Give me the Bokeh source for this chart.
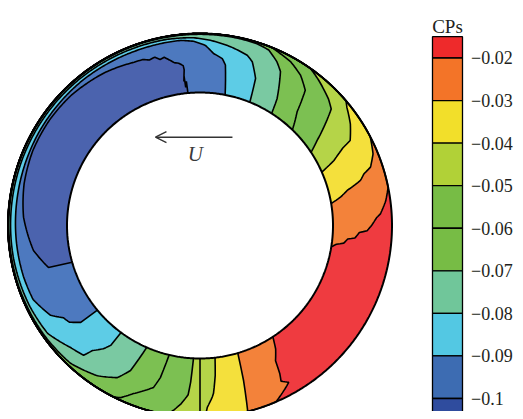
import numpy as np
from bokeh.plotting import figure
from bokeh.models import Range1d, Arrow, OpenHead, Label
from bokeh.embed import file_html
from bokeh.resources import INLINE
from bokeh.core.properties import value

# ---------------- data ----------------
# contour levels (colour-bar tick values, top to bottom)
levels = [-0.02, -0.03, -0.04, -0.05, -0.06, -0.07, -0.08, -0.09, -0.1]
level_labels = ["\u22120.02", "\u22120.03", "\u22120.04", "\u22120.05", "\u22120.06",
                "\u22120.07", "\u22120.08", "\u22120.09", "\u22120.1"]
bar_top_value = -0.015
bar_bottom_value = -0.11

# band colours, highest (red) to lowest (dark blue)
bar_colors = ["#EE2A2B", "#F37428", "#F2DF2A", "#B1D137", "#77BC45", "#77BC45",
              "#70C69A", "#53C8E3", "#3D6CB2", "#2F4C9E"]
ring_colors = ["#EF3B40", "#F3823A", "#F4E03C", "#B5D448", "#7CC052", "#7CC052",
               "#7AC9A2", "#5DCCE6", "#4D79BF", "#4B63AE"]

# Each contour line: angle (deg, counter-clockwise from +x) and radial
# fraction across the ring (0 = inner edge, 1 = outer edge), running from
# its upper end, round the left side, to its lower end.
c02_theta = [-9.2, -7.8, -7.0, -5.2, -4.6, -2.5, -1.8, 0.2, 2.5, 3.7, 7.5, 11.5,
             293.3, 298.0, 299.5, 297.5, 298.3, 299.2, 301.5, 303.2]
c02_frac = [0.0, 0.08, 0.2, 0.26, 0.38, 0.45, 0.58, 0.66, 0.74, 0.81, 0.92, 1.0,
            1.0, 0.85, 0.8, 0.72, 0.6, 0.37, 0.2, 0.0]

c03_theta = [9.5, 11.5, 13.4, 15.7, 17.5, 18.9, 22.5, 27.6, 284.4, 285.7, 286.5]
c03_frac = [0.0, 0.18, 0.31, 0.57, 0.66, 0.8, 0.92, 1.0, 1.0, 0.47, 0.0]

c04_theta = [23.7, 25.9, 27.0, 28.5, 29.5, 34.0, 38.8, 40.5,
             271.5, 272.3, 274.1, 274.6, 275.8, 276.5]
c04_frac = [0.0, 0.27, 0.36, 0.5, 0.67, 0.82, 0.94, 1.0,
            1.0, 0.83, 0.66, 0.6, 0.3, 0.0]

c05_theta = [33.4, 36.0, 38.5, 41.6, 44.5, 47.5, 51.0, 54.9,
             260.1, 262.0, 264.0, 266.0, 266.6, 267.2]
c05_frac = [0.0, 0.2, 0.43, 0.72, 0.8, 0.86, 0.93, 1.0,
            1.0, 0.9, 0.78, 0.62, 0.4, 0.0]

c06_theta = [46.0, 49.5, 52.1, 56.2, 61.1, 64.9, 68.0,
             243.0, 245.2, 248.4, 254.0, 255.4, 256.6]
c06_frac = [0.0, 0.28, 0.65, 0.81, 0.92, 0.96, 1.0,
            1.0, 0.96, 0.81, 0.6, 0.41, 0.0]

c07_theta = [57.4, 58.7, 62.4, 64.8, 68.6, 72.6, 80.0, 120.0, 160.0, 200.0, 215.0,
             226.8, 235.7, 241.5, 244.4, 246.4]
c07_frac = [0.0, 0.26, 0.69, 0.81, 0.94, 0.975, 0.985, 0.99, 0.99, 0.985, 0.975,
            0.95, 0.83, 0.68, 0.47, 0.0]

c08_theta = [68.0, 69.3, 72.3, 74.5, 80.3, 86.8, 92.0, 100.0, 130.0, 160.0, 190.0,
             205.0, 215.3, 223.3, 228.1, 229.3, 231.9, 233.3, 233.6]
c08_frac = [0.0, 0.41, 0.66, 0.74, 0.82, 0.89, 0.93, 0.95, 0.96, 0.96, 0.955,
            0.94, 0.91, 0.76, 0.7, 0.54, 0.4, 0.28, 0.0]

c09_theta = [79.1, 81.0, 82.4, 85.5, 88.3, 92.0, 96.0, 110.0, 130.0, 150.0, 170.0,
             185.0, 196.0, 203.9, 211.0, 214.0, 216.5, 219.1, 219.5]
c09_frac = [0.0, 0.5, 0.6, 0.67, 0.8, 0.87, 0.9, 0.9, 0.91, 0.9, 0.88,
            0.87, 0.86, 0.84, 0.7, 0.54, 0.5, 0.35, 0.0]

c10_theta = [95.2, 95.4, 95.9, 96.1, 96.4, 95.8, 96.0, 97.5, 99.0, 102.0, 103.5,
             105.0, 107.0, 109.0, 112.0, 122.0, 135.0, 145.0, 156.0, 166.6, 177.3,
             188.5, 195.5, 196.0]
c10_frac = [0.0, 0.2, 0.1, 0.3, 0.2, 0.4, 0.47, 0.52, 0.54, 0.66, 0.64,
            0.7, 0.68, 0.72, 0.73, 0.8, 0.85, 0.86, 0.85, 0.81, 0.74,
            0.6, 0.41, 0.0]

contours = [(c02_theta, c02_frac), (c03_theta, c03_frac), (c04_theta, c04_frac),
            (c05_theta, c05_frac), (c06_theta, c06_frac), (c07_theta, c07_frac),
            (c08_theta, c08_frac), (c09_theta, c09_frac), (c10_theta, c10_frac)]

# seam line at the bottom of the ring
seam_theta = [270.0, 270.0]
seam_frac = [0.0, 1.0]

# ---------------- geometry ----------------
R_OUT = 1.0
R_IN = 133.0 / 192.0


def densify(theta, frac, step=0.5):
    ts, rs = [], []
    for i in range(len(theta) - 1):
        t0, t1 = theta[i], theta[i + 1]
        r0 = R_IN + frac[i] * (R_OUT - R_IN)
        r1 = R_IN + frac[i + 1] * (R_OUT - R_IN)
        n = max(1, int(np.ceil(abs(t1 - t0) / step)))
        s = np.linspace(0, 1, n, endpoint=False)
        ts.extend(t0 + (t1 - t0) * s)
        rs.extend(r0 + (r1 - r0) * s)
    ts.append(theta[-1])
    rs.append(R_IN + frac[-1] * (R_OUT - R_IN))
    return np.array(ts), np.array(rs)


def to_xy(t, r):
    a = np.radians(t)
    return r * np.cos(a), r * np.sin(a)


poly_xs, poly_ys, line_xs, line_ys = [], [], [], []
for th, fr in contours:
    t, r = densify(th, fr)
    lx, ly = to_xy(t, r)
    line_xs.append(lx)
    line_ys.append(ly)
    n = int(abs(t[-1] - t[0]) / 0.5) + 2
    ta = np.linspace(t[-1], t[0], n)
    ax, ay = to_xy(ta, np.full(n, R_IN))
    poly_xs.append(np.concatenate([lx, ax]))
    poly_ys.append(np.concatenate([ly, ay]))

st, sr = densify(seam_theta, seam_frac)
sx, sy = to_xy(st, sr)
line_xs.append(sx)
line_ys.append(sy)

# ---------------- figure ----------------
p = figure(width=515, height=411, x_range=Range1d(-1.03906, 1.64323),
           y_range=Range1d(-0.96875, 1.17188), x_axis_type=None, y_axis_type=None,
           output_backend="svg", toolbar_location=None, min_border=0)
p.outline_line_color = None
p.grid.visible = False
p.extra_y_ranges = {"cb": Range1d(-0.10306, -0.00649)}

# base ring (highest band)
p.annulus(x=[0], y=[0], inner_radius=R_IN, outer_radius=R_OUT,
          fill_color=ring_colors[0], line_color=None)
p.patches(xs=poly_xs, ys=poly_ys, fill_color=ring_colors[1:], line_color=None)
p.multi_line(xs=line_xs, ys=line_ys, line_color="black", line_width=1.6)

circ = np.linspace(0, 360, 721)
for rad in (R_OUT, R_IN):
    cx, cy = to_xy(circ, np.full(circ.size, rad))
    p.line(cx, cy, line_color="black", line_width=2)

# flow arrow and label
p.add_layout(Arrow(end=OpenHead(size=11, line_color="#333333", line_width=1.4),
                   x_start=0.169, y_start=0.46, x_end=-0.232, y_end=0.46,
                   line_color="#333333", line_width=1.4))
p.add_layout(Label(x=-0.024, y=0.375, text="U", text_font="Liberation Serif",
                   text_font_style="italic", text_font_size="21px",
                   text_color="#3a3a3a", text_align="center", text_baseline="middle"))

# colour bar
bar_tops = [bar_top_value] + levels
bar_bottoms = levels + [bar_bottom_value]
cb_left, cb_right = 1.2109, 1.3672
p.quad(left=cb_left, right=cb_right, top=bar_tops, bottom=bar_bottoms,
       fill_color=bar_colors, line_color="black", line_width=1.3, y_range_name="cb")
p.text(x=[1.4115] * len(levels), y=levels, text=level_labels, y_range_name="cb",
       text_font=value("Liberation Serif"), text_font_size="18px",
       text_color="#231f20", text_align="left", text_baseline="middle")
p.text(x=[(cb_left + cb_right) / 2], y=[bar_top_value], text=["CPs"], y_range_name="cb",
       y_offset=-10, text_font=value("Liberation Serif"), text_font_size="19px",
       text_color="#231f20", text_align="center", text_baseline="alphabetic")

open("out.html", "w").write(file_html(p, INLINE))
